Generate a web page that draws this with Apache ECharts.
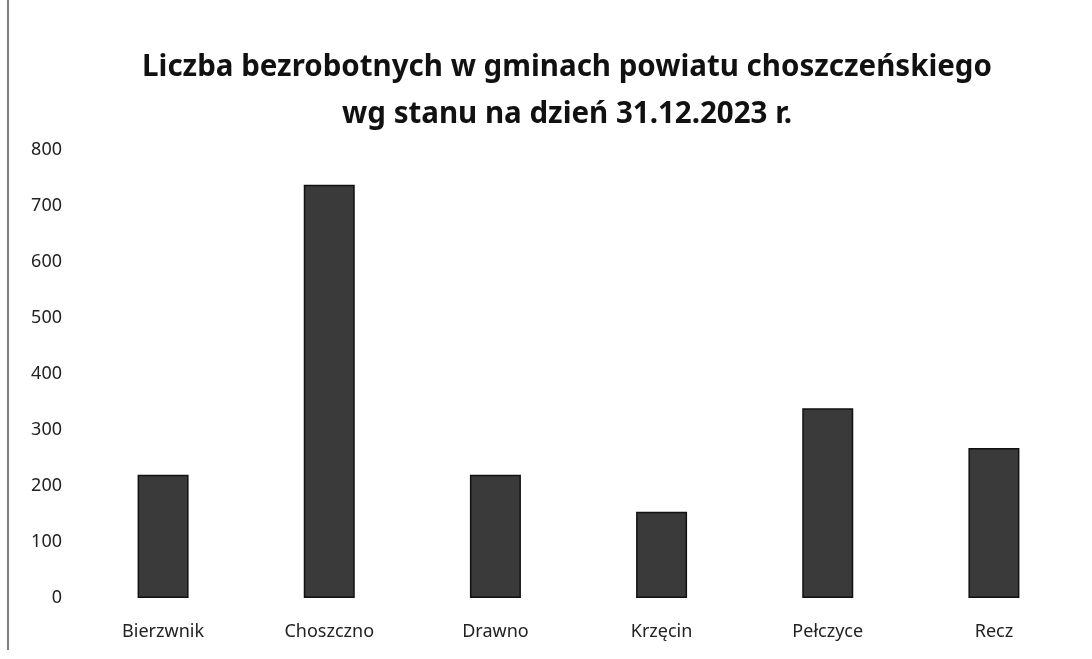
<!DOCTYPE html>
<html>
<head>
<meta charset="utf-8">
<script src="https://cdn.jsdelivr.net/npm/echarts@6/dist/echarts.min.js"></script>
<style>
html,body{margin:0;padding:0;background:#fff;}
#main{width:1092px;height:659px;}
</style>
</head>
<body>
<div id="main"></div>
<script>
// gminy powiatu choszczeńskiego
var gminy = ['Bierzwnik', 'Choszczno', 'Drawno', 'Krzęcin', 'Pełczyce', 'Recz'];
var bezrobotni = [220, 738, 220, 154, 339, 268];
var yTicks = [0, 100, 200, 300, 400, 500, 600, 700, 800];

var chart = echarts.init(document.getElementById('main'));
var option = {
	backgroundColor: '#fff',
	animation: false,
	title: {
		text: 'Liczba bezrobotnych w gminach powiatu choszczeńskiego\nwg stanu na dzień 31.12.2023 r.',
		left: 562,
		textAlign: 'center',
		top: 39,
		textStyle: {
			fontFamily: 'Noto Sans',
			fontWeight: 'bold',
			fontSize: 29.5,
			lineHeight: 47,
			color: '#111'
		}
	},
	grid: {
		left: 80,
		right: 15,
		top: 150,
		bottom: 61
	},
	xAxis: {
		type: 'category',
		data: gminy,
		axisLine: {show: false},
		axisTick: {show: false},
		axisLabel: {
			margin: 25,
			fontFamily: 'Noto Sans',
			fontSize: 18,
			color: '#222'
		}
	},
	yAxis: {
		type: 'value',
		min: yTicks[0],
		max: yTicks[yTicks.length - 1],
		interval: 100,
		splitLine: {show: false},
		axisLine: {show: false},
		axisTick: {show: false},
		axisLabel: {
			margin: 18,
			fontFamily: 'Noto Sans',
			fontSize: 18,
			color: '#222'
		}
	},
	series: [{
		type: 'bar',
		data: bezrobotni,
		barWidth: 51,
		itemStyle: {
			color: '#3a3a3a',
			borderColor: '#111',
			borderWidth: 1.5
		}
	}],
	graphic: [{
		type: 'line',
		shape: {x1: 8, y1: 0, x2: 8, y2: 650},
		style: {stroke: '#555', lineWidth: 1.5}
	}]
};
chart.setOption(option);
</script>
</body>
</html>
